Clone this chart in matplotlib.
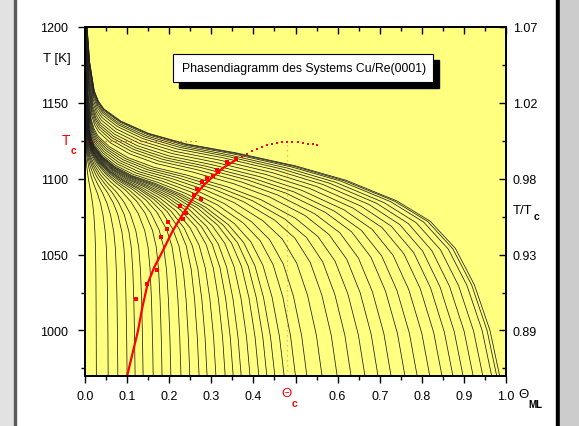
import numpy as np
import matplotlib
matplotlib.use('Agg')
import matplotlib.pyplot as plt
from matplotlib.patches import Rectangle
from matplotlib.ticker import MultipleLocator

plt.rcParams['font.family'] = ['Liberation Sans', 'DejaVu Sans']

# isobars: coverage (theta) and temperature (K) of the points,
# lowest curve (smallest coverage at 970 K) first
theta_low = [
    [.027, .0267, .0263, .0258, .0250, .0236, .0211, .0181, .0143, .0108, .0073, .0043, .0023, .0016, .0010, .0004, .0002, .0002],
    [.055, .0545, .0536, .0525, .0509, .0481, .0429, .0369, .0292, .0220, .0149, .0088, .0047, .0032, .0020, .0008, .0004, .0004],
    [.078, .0772, .0761, .0745, .0722, .0683, .0608, .0523, .0413, .0312, .0211, .0125, .0066, .0045, .0028, .0012, .0005, .0005],
    [.100, .0990, .0975, .0955, .0925, .0875, .0780, .0670, .0530, .0400, .0270, .0160, .0085, .0058, .0036, .0015, .0007, .0007],
    [.119, .1178, .1160, .1136, .1101, .1041, .0928, .0797, .0631, .0476, .0321, .0190, .0101, .0069, .0043, .0018, .0008, .0008],
    [.138, .1366, .1346, .1318, .1277, .1208, .1076, .0925, .0731, .0552, .0373, .0221, .0117, .0080, .0050, .0021, .0009, .0009],
    [.162, .1604, .1580, .1547, .1499, .1418, .1264, .1085, .0859, .0648, .0437, .0259, .0138, .0094, .0058, .0024, .0011, .0011],
    [.183, .1812, .1784, .1748, .1693, .1601, .1427, .1226, .0970, .0732, .0494, .0293, .0156, .0106, .0066, .0027, .0012, .0012],
    [.204, .2017, .1982, .1936, .1867, .1760, .1560, .1334, .1048, .0784, .0527, .0311, .0165, .0113, .0071, .0030, .0013, .0013],
    [.228, .2251, .2207, .2149, .2067, .1939, .1710, .1454, .1133, .0841, .0562, .0331, .0176, .0121, .0076, .0032, .0014, .0014],
    [.249, .2455, .2401, .2332, .2234, .2086, .1830, .1547, .1197, .0879, .0584, .0343, .0182, .0125, .0079, .0035, .0015, .0015],
    [.271, .2668, .2603, .2521, .2406, .2237, .1951, .1640, .1258, .0915, .0604, .0354, .0188, .0130, .0083, .0037, .0016, .0016],
    [.290, .2852, .2775, .2680, .2548, .2358, .2044, .1708, .1298, .0933, .0612, .0357, .0190, .0131, .0085, .0038, .0017, .0017],
    [.311, .3055, .2967, .2859, .2710, .2498, .2154, .1791, .1352, .0962, .0627, .0365, .0193, .0134, .0087, .0040, .0018, .0018],
]
temp_low = [
    [970, 994.6, 1019.2, 1038.9, 1053.6, 1064.7, 1075.8, 1083.6, 1090.5, 1095.5, 1101.2, 1107.8, 1114.3, 1118.4, 1124.2, 1139.7, 1158.6, 1200],
    [970, 994.6, 1019.2, 1038.9, 1053.6, 1064.7, 1075.8, 1083.6, 1090.5, 1095.5, 1101.2, 1107.8, 1114.3, 1118.4, 1124.2, 1139.7, 1158.6, 1200],
    [970, 994.7, 1019.3, 1039.0, 1053.8, 1064.9, 1076.0, 1083.8, 1090.8, 1095.8, 1101.5, 1108.1, 1114.7, 1118.8, 1124.5, 1140.2, 1159.1, 1200],
    [970, 994.7, 1019.4, 1039.2, 1054.0, 1065.2, 1076.3, 1084.1, 1091.1, 1096.1, 1101.8, 1108.4, 1115.0, 1119.1, 1124.9, 1140.6, 1159.5, 1200],
    [970, 994.8, 1019.6, 1039.4, 1054.3, 1065.4, 1076.6, 1084.4, 1091.4, 1096.4, 1102.2, 1108.8, 1115.4, 1119.5, 1125.3, 1141.0, 1160.0, 1200],
    [970, 994.8, 1019.7, 1039.6, 1054.5, 1065.6, 1076.8, 1084.7, 1091.7, 1096.7, 1102.5, 1109.1, 1115.7, 1119.9, 1125.7, 1141.4, 1160.4, 1200],
    [970, 994.9, 1019.8, 1039.7, 1054.7, 1065.9, 1077.1, 1085.0, 1092.0, 1097.0, 1102.8, 1109.4, 1116.1, 1120.2, 1126.0, 1141.8, 1160.9, 1200],
    [970, 995.0, 1019.9, 1039.9, 1054.9, 1066.1, 1077.3, 1085.2, 1092.3, 1097.3, 1103.1, 1109.8, 1116.4, 1120.6, 1126.4, 1142.2, 1161.4, 1200],
    [970, 995.0, 1020.0, 1040.1, 1055.1, 1066.3, 1077.6, 1085.5, 1092.6, 1097.6, 1103.4, 1110.1, 1116.8, 1121.0, 1126.8, 1142.6, 1161.8, 1200],
    [970, 995.1, 1020.2, 1040.2, 1055.3, 1066.6, 1077.8, 1085.8, 1092.9, 1097.9, 1103.8, 1110.4, 1117.1, 1121.3, 1127.2, 1143.1, 1162.3, 1200],
    [970, 995.1, 1020.3, 1040.4, 1055.5, 1066.8, 1078.1, 1086.1, 1093.2, 1098.2, 1104.1, 1110.8, 1117.5, 1121.7, 1127.5, 1143.5, 1162.7, 1200],
    [970, 995.2, 1020.4, 1040.6, 1055.7, 1067.0, 1078.4, 1086.3, 1093.5, 1098.5, 1104.4, 1111.1, 1117.8, 1122.0, 1127.9, 1143.9, 1163.2, 1200],
    [970, 995.3, 1020.5, 1040.7, 1055.9, 1067.3, 1078.6, 1086.6, 1093.8, 1098.8, 1104.7, 1111.5, 1118.2, 1122.4, 1128.3, 1144.3, 1163.7, 1200],
    [970, 995.4, 1020.7, 1041.0, 1056.2, 1067.6, 1079.0, 1087.0, 1094.2, 1099.3, 1105.2, 1112.0, 1118.7, 1122.9, 1128.9, 1144.9, 1164.4, 1200],
]

theta_mid = [
    [.333, .3268, .3169, .3047, .2880, .2646, .2271, .1880, .1409, .0994, .0644, .0373, .0198, .0138, .0090, .0042, .0019, .0019],
    [.352, .3451, .3341, .3206, .3022, .2767, .2364, .1947, .1449, .1012, .0652, .0376, .0200, .0140, .0092, .0043, .0019, .0019],
    [.371, .3634, .3513, .3365, .3164, .2888, .2458, .2016, .1490, .1032, .0661, .0380, .0202, .0141, .0094, .0045, .0020, .0020],
    [.392, .3837, .3704, .3541, .3321, .3023, .2562, .2092, .1536, .1053, .0671, .0385, .0204, .0143, .0096, .0046, .0021, .0021],
    [.413, .4039, .3895, .3718, .3480, .3159, .2668, .2170, .1584, .1077, .0682, .0390, .0207, .0146, .0098, .0048, .0022, .0022],
    [.432, .4223, .4068, .3878, .3624, .3283, .2765, .2242, .1629, .1100, .0694, .0395, .0209, .0148, .0100, .0050, .0022, .0022],
    [.451, .4406, .4240, .4038, .3767, .3405, .2859, .2311, .1671, .1120, .0703, .0399, .0211, .0150, .0102, .0051, .0023, .0023],
    [.473, .4619, .4442, .4226, .3938, .3554, .2977, .2401, .1729, .1153, .0720, .0408, .0216, .0154, .0105, .0053, .0024, .0024],
    [.500, .4883, .4696, .4467, .4163, .3757, .3147, .2538, .1828, .1219, .0762, .0432, .0229, .0163, .0112, .0056, .0026, .0026],
    [.527, .5147, .4949, .4708, .4387, .3959, .3317, .2675, .1926, .1284, .0803, .0455, .0241, .0171, .0118, .0059, .0027, .0027],
    [.563, .5498, .5287, .5030, .4687, .4230, .3544, .2858, .2058, .1372, .0857, .0486, .0257, .0183, .0126, .0063, .0029, .0029],
    [.599, .5850, .5625, .5351, .4987, .4500, .3770, .3041, .2189, .1460, .0912, .0517, .0274, .0195, .0134, .0067, .0031, .0031],
    [.632, .6172, .5935, .5646, .5261, .4748, .3978, .3208, .2310, .1540, .0963, .0545, .0289, .0205, .0141, .0071, .0032, .0032],
    [.665, .6494, .6245, .5941, .5536, .4996, .4186, .3376, .2431, .1621, .1013, .0574, .0304, .0216, .0148, .0074, .0034, .0034],
]
temp_mid = [
    [970, 995.4, 1020.9, 1041.2, 1056.5, 1067.9, 1079.4, 1087.4, 1094.7, 1099.7, 1105.7, 1112.5, 1119.2, 1123.5, 1129.4, 1145.5, 1165.0, 1200],
    [970, 995.5, 1021.1, 1041.5, 1056.8, 1068.3, 1079.8, 1087.9, 1095.1, 1100.2, 1106.2, 1113.0, 1119.8, 1124.0, 1130.0, 1146.2, 1165.7, 1200],
    [970, 995.6, 1021.2, 1041.7, 1057.1, 1068.6, 1080.2, 1088.3, 1095.5, 1100.7, 1106.6, 1113.5, 1120.3, 1124.6, 1130.6, 1146.8, 1166.4, 1200],
    [970, 995.7, 1021.4, 1042.0, 1057.4, 1069.0, 1080.6, 1088.7, 1096.0, 1101.1, 1107.1, 1114.0, 1120.8, 1125.1, 1131.1, 1147.4, 1167.1, 1200],
    [970, 995.8, 1021.5, 1042.2, 1057.6, 1069.2, 1080.8, 1089.0, 1096.3, 1101.4, 1107.4, 1114.3, 1121.2, 1125.5, 1131.5, 1147.8, 1167.6, 1200],
    [970, 995.8, 1021.7, 1042.3, 1057.8, 1069.4, 1081.1, 1089.2, 1096.6, 1101.7, 1107.8, 1114.6, 1121.5, 1125.8, 1131.9, 1148.2, 1168.0, 1200],
    [970, 995.9, 1021.8, 1042.5, 1058.0, 1069.7, 1081.3, 1089.5, 1096.9, 1102.0, 1108.1, 1115.0, 1121.9, 1126.2, 1132.2, 1148.6, 1168.5, 1200],
    [970, 996.0, 1022.1, 1042.9, 1058.5, 1070.3, 1082.0, 1090.2, 1097.6, 1102.8, 1108.9, 1115.8, 1122.8, 1127.1, 1133.2, 1149.7, 1169.6, 1200],
    [970, 996.2, 1022.4, 1043.4, 1059.1, 1070.9, 1082.7, 1091.0, 1098.5, 1103.7, 1109.8, 1116.8, 1123.8, 1128.2, 1134.3, 1150.9, 1171.0, 1200],
    [970, 996.4, 1022.8, 1043.9, 1059.8, 1071.6, 1083.5, 1091.9, 1099.4, 1104.6, 1110.8, 1117.8, 1124.9, 1129.3, 1135.4, 1152.2, 1172.4, 1200],
    [970, 996.6, 1023.1, 1044.3, 1060.3, 1072.2, 1084.2, 1092.6, 1100.1, 1105.4, 1111.6, 1118.7, 1125.8, 1130.2, 1136.4, 1153.2, 1173.6, 1200],
    [970, 996.7, 1023.4, 1044.8, 1060.8, 1072.8, 1084.8, 1093.3, 1100.8, 1106.2, 1112.4, 1119.5, 1126.6, 1131.1, 1137.3, 1154.2, 1174.7, 1200],
    [970, 996.9, 1023.7, 1045.2, 1061.3, 1073.4, 1085.5, 1094.0, 1101.6, 1106.9, 1113.2, 1120.4, 1127.5, 1132.0, 1138.3, 1155.3, 1175.9, 1200],
    [970, 997.0, 1024.0, 1045.6, 1061.8, 1074.0, 1086.1, 1094.7, 1102.3, 1107.7, 1114.0, 1121.2, 1128.4, 1132.9, 1139.2, 1156.3, 1177.0, 1200],
]

theta_high = [
    [.696, .6797, .6536, .6218, .5794, .5229, .4381, .3533, .2544, .1696, .1060, .0601, .0318, .0226, .0155, .0078, .0035, .0035],
    [.727, .7100, .6827, .6495, .6053, .5462, .4576, .3690, .2657, .1772, .1107, .0627, .0332, .0236, .0162, .0081, .0037, .0037],
    [.760, .7422, .7137, .6790, .6327, .5710, .4783, .3858, .2778, .1852, .1157, .0656, .0347, .0247, .0169, .0085, .0039, .0039],
    [.789, .7705, .7409, .7049, .6568, .5928, .4966, .4005, .2884, .1923, .1202, .0681, .0361, .0256, .0176, .0088, .0040, .0040],
    [.819, .7998, .7691, .7317, .6818, .6153, .5155, .4157, .2993, .1996, .1247, .0707, .0374, .0266, .0183, .0092, .0042, .0042],
    [.848, .8282, .7964, .7576, .7060, .6371, .5337, .4304, .3099, .2067, .1292, .0732, .0388, .0276, .0189, .0095, .0043, .0043],
    [.874, .8535, .8208, .7808, .7276, .6566, .5501, .4436, .3194, .2130, .1331, .0754, .0399, .0284, .0195, .0098, .0045, .0045],
    [.898, .8770, .8433, .8023, .7476, .6747, .5652, .4558, .3282, .2188, .1368, .0775, .0410, .0292, .0200, .0101, .0046, .0046],
    [.922, .9004, .8659, .8237, .7677, .6927, .5803, .4680, .3370, .2247, .1404, .0796, .0421, .0300, .0206, .0103, .0047, .0047],
    [.945, .9229, .8875, .8443, .7867, .7100, .5948, .4797, .3454, .2303, .1439, .0816, .0432, .0307, .0211, .0106, .0048, .0048],
    [.966, .9434, .9072, .8630, .8042, .7258, .6080, .4903, .3531, .2354, .1471, .0834, .0441, .0314, .0215, .0108, .0049, .0049],
    [.978, .9551, .9185, .8737, .8142, .7348, .6155, .4964, .3575, .2383, .1489, .0844, .0447, .0318, .0218, .0110, .0050, .0050],
    [.985, .9620, .9250, .8800, .8200, .7400, .6200, .5000, .3600, .2400, .1500, .0850, .0450, .0320, .0220, .0110, .0050, .0050],
]
temp_high = [
    [970, 997.5, 1024.9, 1046.9, 1063.3, 1075.7, 1088.0, 1096.7, 1104.5, 1110.0, 1116.4, 1123.7, 1131.0, 1135.6, 1142.0, 1159.4, 1180.5, 1200],
    [970, 997.8, 1025.5, 1047.7, 1064.4, 1076.8, 1089.3, 1098.1, 1106.0, 1111.5, 1118.0, 1125.4, 1132.8, 1137.4, 1143.9, 1161.5, 1182.8, 1200],
    [970, 998.0, 1026.0, 1048.4, 1065.2, 1077.8, 1090.4, 1099.2, 1107.2, 1112.7, 1119.3, 1126.7, 1134.2, 1138.9, 1145.4, 1163.1, 1184.6, 1200],
    [970, 998.2, 1026.4, 1049.0, 1065.9, 1078.6, 1091.3, 1100.2, 1108.2, 1113.8, 1120.4, 1127.9, 1135.4, 1140.1, 1146.7, 1164.6, 1186.2, 1200],
    [970, 998.4, 1026.9, 1049.6, 1066.7, 1079.5, 1092.3, 1101.3, 1109.4, 1115.0, 1121.7, 1129.3, 1136.8, 1141.6, 1148.2, 1166.2, 1188.0, 1200],
    [970, 998.7, 1027.5, 1050.5, 1067.7, 1080.6, 1093.6, 1102.7, 1110.8, 1116.6, 1123.3, 1130.9, 1138.6, 1143.4, 1150.1, 1168.3, 1190.3, 1200],
    [970, 999.0, 1028.1, 1051.3, 1068.7, 1081.8, 1094.9, 1104.1, 1112.3, 1118.1, 1124.9, 1132.6, 1140.4, 1145.2, 1152.0, 1170.4, 1192.6, 1200],
    [970, 999.3, 1028.7, 1052.2, 1069.8, 1083.0, 1096.2, 1105.5, 1113.8, 1119.6, 1126.5, 1134.3, 1142.1, 1147.0, 1153.9, 1172.4, 1194.9, 1200],
    [970, 999.6, 1029.1, 1052.7, 1070.5, 1083.8, 1097.1, 1106.4, 1114.8, 1120.7, 1127.6, 1135.5, 1143.4, 1148.3, 1155.2, 1173.9, 1196.6, 1200],
    [970, 999.7, 1029.4, 1053.2, 1071.0, 1084.3, 1097.7, 1107.1, 1115.5, 1121.5, 1128.4, 1136.3, 1144.2, 1149.2, 1156.1, 1174.9, 1197.7, 1200],
    [970, 999.9, 1029.7, 1053.6, 1071.5, 1084.9, 1098.4, 1107.8, 1116.3, 1122.2, 1129.2, 1137.2, 1145.1, 1150.1, 1157.1, 1176.0, 1198.9, 1200],
    [970, 999.9, 1029.9, 1053.8, 1071.8, 1085.3, 1098.7, 1108.2, 1116.7, 1122.7, 1129.7, 1137.7, 1145.6, 1150.6, 1157.6, 1176.6, 1199.5, 1200],
    [970, 1000.0, 1030.0, 1054.0, 1072.0, 1085.5, 1099.0, 1108.5, 1117.0, 1123.0, 1130.0, 1138.0, 1146.0, 1151.0, 1158.0, 1177.0, 1200.0, 1200],
]

# red phase boundary (solid part)
bound_theta = [0.100, 0.113, 0.126, 0.136, 0.149, 0.165, 0.182, 0.207, 0.233, 0.261, 0.283, 0.304, 0.330, 0.359]
bound_T = [970, 985, 1000, 1015, 1031, 1042, 1051, 1065, 1077, 1089, 1096, 1101.5, 1107.5, 1112.5]

# red data points
pts_theta = [0.122, 0.148, 0.170, 0.180, 0.194, 0.197, 0.226, 0.233, 0.239, 0.259, 0.267, 0.275,
             0.279, 0.289, 0.305, 0.314, 0.316, 0.338, 0.358]
pts_T = [1020.6, 1030.7, 1040.0, 1061.6, 1066.6, 1071.5, 1082.0, 1073.7, 1077.6, 1089.0, 1093.0, 1086.8,
         1097.6, 1100.5, 1101.5, 1105.5, 1104.4, 1111.2, 1112.7]

# dotted coexistence dome
dome_theta = [0.373, 0.384, 0.396, 0.408, 0.420, 0.432, 0.445, 0.457, 0.469, 0.480, 0.492, 0.505,
              0.517, 0.529, 0.541, 0.550]
dome_T = [1114.3, 1116.4, 1118.0, 1119.7, 1121.0, 1122.0, 1123.0, 1123.6, 1124.0, 1124.2, 1124.2,
          1124.0, 1123.7, 1123.2, 1122.8, 1122.4]

T_c = 1125
theta_c = 0.48

x_ticks = [0.0, 0.1, 0.2, 0.3, 0.4, 0.5, 0.6, 0.7, 0.8, 0.9, 1.0]
x_labels = ['0.0', '0.1', '0.2', '0.3', '0.4', '', '0.6', '0.7', '0.8', '0.9', '1.0']
y_ticks = [1000, 1050, 1100, 1150, 1200]
y_labels = ['1000', '1050', '1100', '1150', '1200']
ratio_labels = ['0.89', '0.93', '0.98', '1.02', '1.07']

W, H = 579, 427
fig = plt.figure(figsize=(W / 100, H / 100), dpi=100)
fig.patch.set_facecolor('white')


def fx(px):
    return px / W


def fy(py):
    return 1 - py / H


# frame decoration at the picture edges
fig.add_artist(Rectangle((0, 0), fx(14), 1, transform=fig.transFigure, color='#e2e2e2', zorder=0))
fig.add_artist(Rectangle((fx(14), 0), fx(2), 1, transform=fig.transFigure, color='#5a5a5a', zorder=0))
fig.add_artist(Rectangle((fx(556), 0), fx(4), 1, transform=fig.transFigure, color='black', zorder=0))
fig.add_artist(Rectangle((fx(560), 0), fx(19), 1, transform=fig.transFigure, color='#cccccc', zorder=0))

ax = fig.add_axes([fx(85), fy(377), fx(506) - fx(85), fy(28) - fy(377)])
ax.set_facecolor('#ffff80')

for th, tt in zip(theta_low + theta_mid + theta_high, temp_low + temp_mid + temp_high):
    ax.plot(th, tt, color='#1e1e1e', lw=0.55, zorder=2)

ax.plot([0, 0.27], [T_c, T_c], color='red', ls=(0, (1, 3)), lw=0.9, alpha=0.7, zorder=3)
ax.plot([theta_c, theta_c], [970, 1124.2], color='#ff6030', ls=(0, (1, 3)), lw=0.9, alpha=0.6, zorder=3)
ax.plot(dome_theta, dome_T, ls='none', marker='s', ms=1.8, mew=0, color='red', zorder=4)
ax.plot(bound_theta, bound_T, color='red', lw=1.6, zorder=4)
ax.plot(pts_theta, pts_T, ls='none', marker='s', ms=2.6, mew=0, color='red', zorder=5)

ax.set_xlim(0, 1)
ax.set_ylim(970, 1200)
ax.set_xticks(x_ticks)
ax.set_xticklabels(x_labels)
ax.xaxis.set_minor_locator(MultipleLocator(0.05))
ax.set_yticks(y_ticks)
ax.set_yticklabels(y_labels)
ax.yaxis.set_minor_locator(MultipleLocator(25))
ax.tick_params(which='major', direction='out', length=5, width=1, labelsize=9, pad=5)
ax.tick_params(axis='y', which='major', pad=7)
ax.tick_params(which='minor', direction='out', length=3, width=1)

ax_r = ax.twinx()
ax_r.set_ylim(970, 1200)
ax_r.set_yticks(y_ticks)
ax_r.set_yticklabels(ratio_labels)
ax_r.yaxis.set_minor_locator(MultipleLocator(25))
ax_r.tick_params(which='major', direction='in', length=5, width=1, labelsize=9, pad=5)
ax_r.tick_params(which='minor', direction='in', length=3, width=1)

ax_t = ax.twiny()
ax_t.set_xlim(0, 1)
ax_t.set_xticks(x_ticks)
ax_t.xaxis.set_minor_locator(MultipleLocator(0.05))
ax_t.tick_params(which='major', direction='in', length=5, width=1, labeltop=False)
ax_t.tick_params(which='minor', direction='in', length=3, width=1)

for a in (ax, ax_r, ax_t):
    for s in a.spines.values():
        s.set_linewidth(1.1)

# axis annotations
fig.text(fx(43), fy(59), 'T [K]', fontsize=9.5, va='center', ha='left')
fig.text(fx(70), fy(141), 'T', fontsize=10, color='red', va='center', ha='right')
fig.text(fx(71), fy(151), 'c', fontsize=7.5, color='red', va='center', ha='left', weight='bold')
fig.text(fx(513), fy(211), 'T/T', fontsize=9.5, va='center', ha='left')
fig.text(fx(534), fy(217), 'c', fontsize=7.5, va='center', ha='left', weight='bold')
fig.text(fx(287), fy(394), '\u0398', fontsize=9.5, color='red', va='center', ha='center')
fig.text(fx(292), fy(404), 'c', fontsize=7.5, color='red', va='center', ha='left', weight='bold')
fig.text(fx(518), fy(395), '\u0398', fontsize=9.5, va='center', ha='left')
fig.text(fx(528), fy(405), 'ML', fontsize=7, va='center', ha='left', weight='bold')

# title box with drop shadow
fig.add_artist(Rectangle((fx(179), fy(89)), fx(260), 28 / H, transform=fig.transFigure,
                         facecolor='black', edgecolor='black', zorder=6))
fig.add_artist(Rectangle((fx(173), fy(83)), fx(260), 28 / H, transform=fig.transFigure,
                         facecolor='white', edgecolor='black', lw=0.8, zorder=7))
fig.text(fx(304), fy(69), 'Phasendiagramm des Systems Cu/Re(0001)', fontsize=8.8,
         va='center', ha='center', zorder=8)

fig.savefig('out.png', dpi=100)
